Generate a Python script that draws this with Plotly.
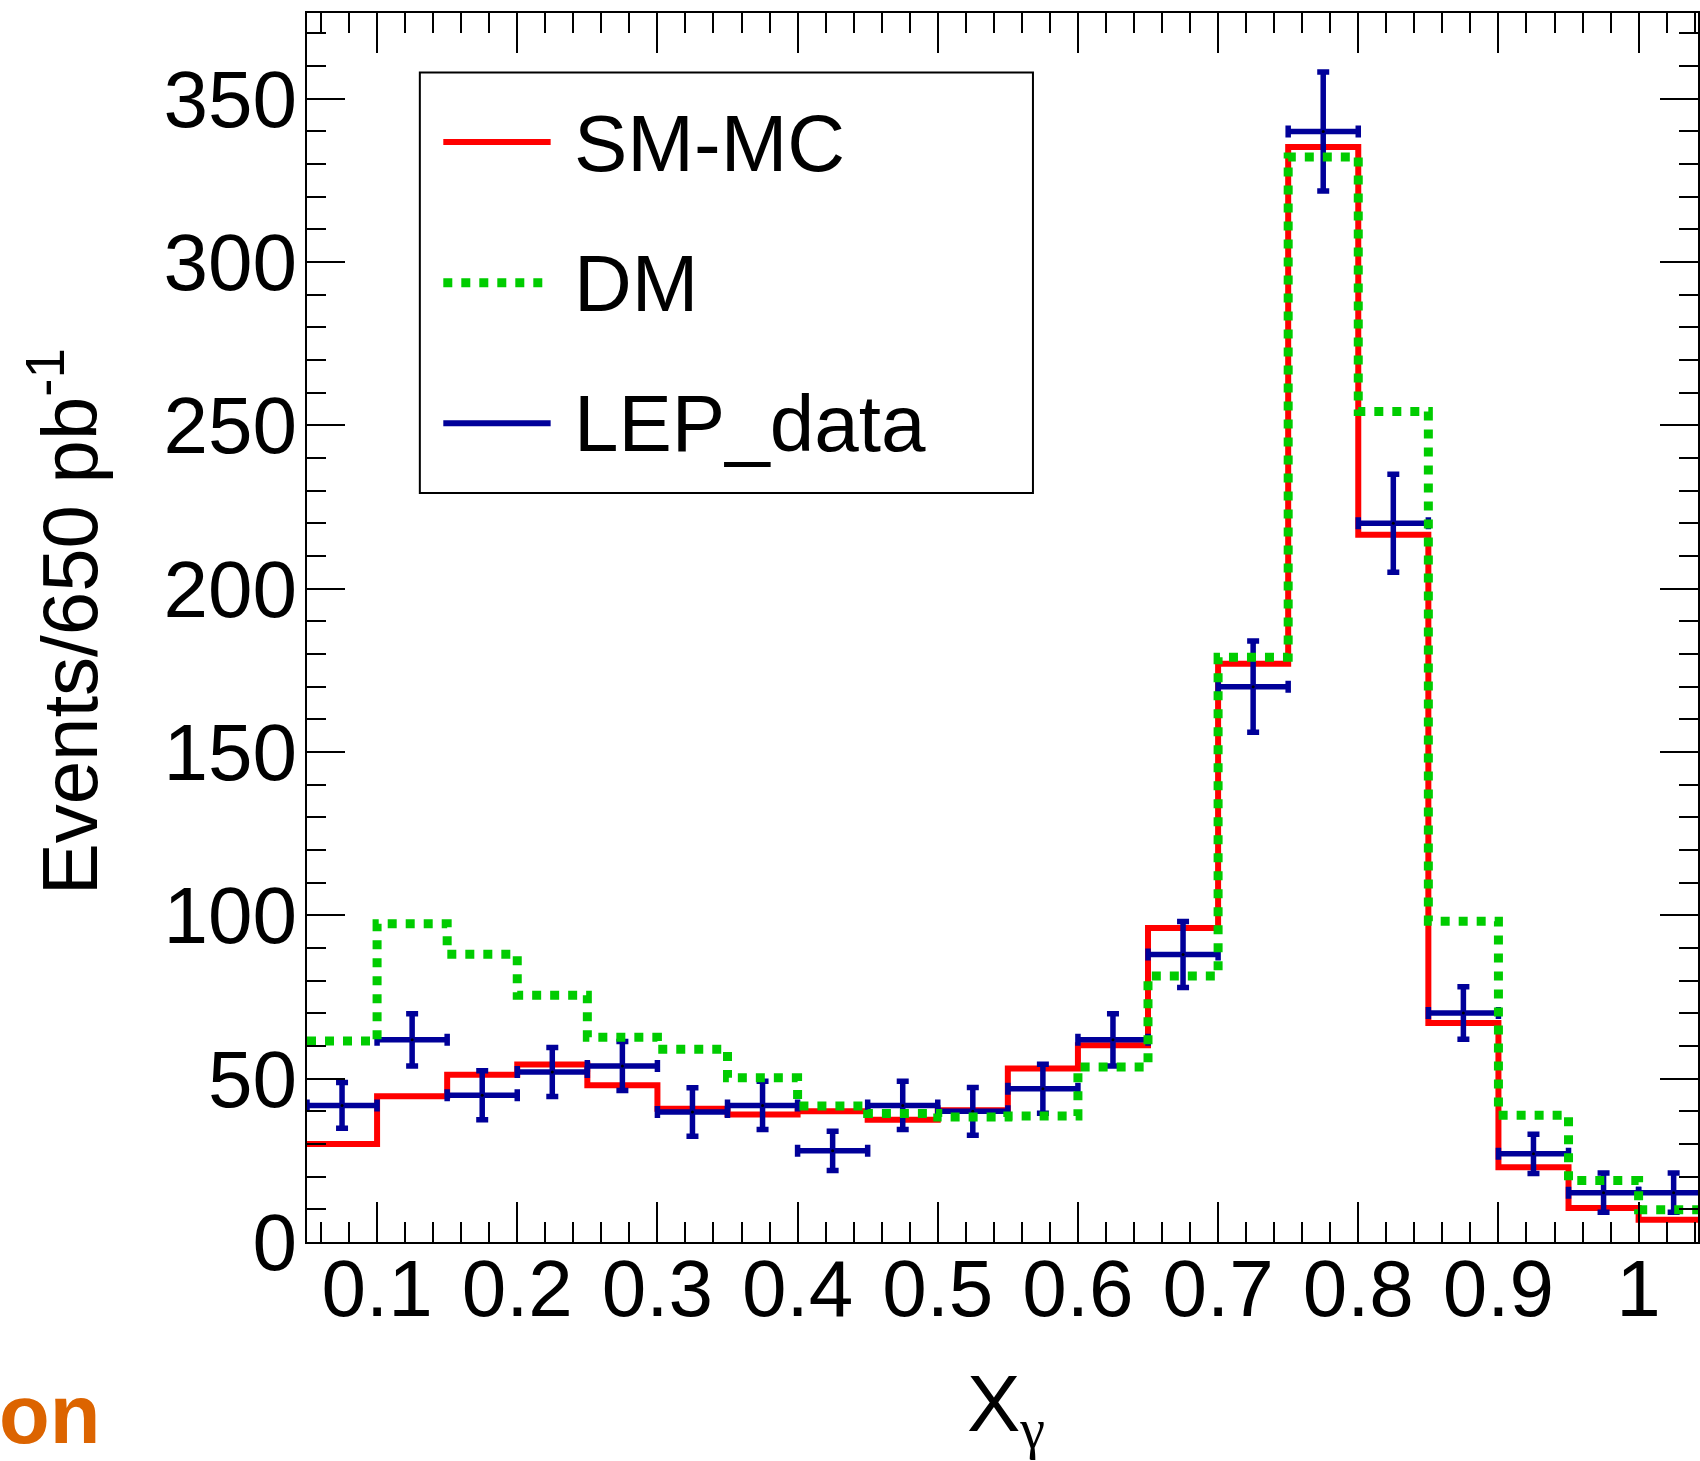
import plotly.graph_objects as go

# ---------------- data ----------------
bin_edges = [0.05, 0.10, 0.15, 0.20, 0.25, 0.30, 0.35, 0.40, 0.45, 0.50,
             0.55, 0.60, 0.65, 0.70, 0.75, 0.80, 0.85, 0.90, 0.95, 1.00, 1.05]

sm_mc = [30.0, 44.6, 51.2, 54.3, 48.0, 40.8, 39.0, 40.0, 37.4, 40.3,
         53.1, 60.2, 96.1, 177.0, 335.2, 216.5, 67.0, 22.9, 10.4, 6.8]

dm = [61.5, 97.4, 88.1, 75.5, 62.7, 59.0, 50.3, 41.6, 39.3, 38.3,
      38.6, 53.6, 81.4, 179.0, 332.1, 254.2, 98.2, 38.8, 18.8, 9.9]

lep_data = [41.8, 61.9, 44.9, 52.0, 53.9, 39.8, 41.8, 27.9, 41.8, 40.0,
            46.9, 61.9, 88.0, 170.0, 339.9, 220.0, 70.1, 27.0, 15.1, 15.1]

lep_err = [7.0, 8.0, 7.5, 7.5, 7.5, 7.4, 7.4, 6.0, 7.4, 7.3,
           7.5, 8.0, 10.1, 14.0, 18.2, 15.0, 8.0, 6.0, 6.0, 6.0]

x_tick_vals = [0.1, 0.2, 0.3, 0.4, 0.5, 0.6, 0.7, 0.8, 0.9, 1.0]
x_tick_text = ["0.1", "0.2", "0.3", "0.4", "0.5", "0.6", "0.7", "0.8", "0.9", "1"]
y_tick_vals = [0, 50, 100, 150, 200, 250, 300, 350]
y_tick_text = ["0", "50", "100", "150", "200", "250", "300", "350"]

legend_labels = ["SM-MC", "DM", "LEP_data"]
x_title = "X<sub><span style=\"font-family:'Liberation Serif','DejaVu Serif',serif\">γ</span></sub>"
y_title = "Events/650 pb<sup>-1</sup>"
corner_text = "<b>on</b>"

# ---------------- styling ----------------
FONT = "Liberation Sans, Arial, Helvetica, sans-serif"
RED = "#FF0000"
GREEN = "#00CC00"
BLUE = "#000099"
ORANGE = "#DC6400"

W, H = 1700, 1461
ML, MR, MT, MB = 307, 0, 13, 219
PW, PH = W - ML - MR, H - MT - MB
X_PX_PER_UNIT = 1403.7
Y_PX_PER_UNIT = 3.2669


def px_x(X):
    return (X - ML) / PW


def px_y(Y):
    return (H - MB - Y) / PH


def step_xy(values):
    return list(bin_edges), list(values) + [values[-1]]


centers = [(a + b) / 2 for a, b in zip(bin_edges[:-1], bin_edges[1:])]
half_w = [(b - a) / 2 for a, b in zip(bin_edges[:-1], bin_edges[1:])]

fig = go.Figure()

sx, sy = step_xy(sm_mc)
fig.add_trace(go.Scatter(x=sx, y=sy, mode="lines", line_shape="hv",
                         line=dict(color=RED, width=6), name=legend_labels[0]))

fig.add_trace(go.Scatter(
    x=centers, y=lep_data, mode="markers", name=legend_labels[2],
    marker=dict(size=3, color="black"),
    error_y=dict(type="data", array=lep_err, color=BLUE, thickness=5.5, width=6),
    error_x=dict(type="data", array=half_w, color=BLUE, thickness=5.5, width=6),
))

dx, dy = step_xy(dm)
fig.add_trace(go.Scatter(x=dx, y=dy, mode="lines", line_shape="hv",
                         line=dict(color=GREEN, width=9, dash="9px,9px"),
                         name=legend_labels[1]))

axis_common = dict(
    showline=True, linewidth=2, linecolor="black", mirror="ticks",
    ticks="inside", tickwidth=2, tickcolor="black",
    showgrid=False, zeroline=False,
    tickfont=dict(family=FONT, size=80, color="black"),
)

fig.update_layout(
    width=W, height=H,
    margin=dict(l=ML, r=MR, t=MT, b=MB, pad=0),
    paper_bgcolor="white", plot_bgcolor="white",
    showlegend=False,
    font=dict(family=FONT, color="black"),
    xaxis=dict(
        range=[0.05, 0.05 + PW / X_PX_PER_UNIT],
        tickmode="array", tickvals=x_tick_vals, ticktext=x_tick_text,
        ticklen=40, ticklabelstandoff=-24,
        minor=dict(ticks="inside", ticklen=20, tickwidth=2, tickcolor="black",
                   tickmode="linear", tick0=0, dtick=0.02, showgrid=False),
        **axis_common,
    ),
    yaxis=dict(
        range=[0, PH / Y_PX_PER_UNIT],
        tickmode="array", tickvals=y_tick_vals, ticktext=y_tick_text,
        ticklen=38, ticklabelstandoff=-8,
        minor=dict(ticks="inside", ticklen=19, tickwidth=2, tickcolor="black",
                   tickmode="linear", tick0=0, dtick=10, showgrid=False),
        **axis_common,
    ),
)

# ---------------- legend box (drawn manually to match layout) ----------------
shapes = [
    dict(type="rect", xref="paper", yref="paper",
         x0=px_x(420), x1=px_x(1034), y0=px_y(72.5), y1=px_y(493),
         line=dict(color="black", width=2), fillcolor="white", layer="above"),
    dict(type="line", xref="paper", yref="paper",
         x0=px_x(443.5), x1=px_x(551), y0=px_y(142), y1=px_y(142),
         line=dict(color=RED, width=6)),
    dict(type="line", xref="paper", yref="paper",
         x0=px_x(443.5), x1=px_x(546), y0=px_y(282.7), y1=px_y(282.7),
         line=dict(color=GREEN, width=9, dash="9px,9px")),
    dict(type="line", xref="paper", yref="paper",
         x0=px_x(443.5), x1=px_x(551), y0=px_y(423.3), y1=px_y(423.3),
         line=dict(color=BLUE, width=6)),
]
fig.update_layout(shapes=shapes)

annotations = []
for label, yc in zip(legend_labels, [143, 283, 423]):
    annotations.append(dict(
        text=label, xref="paper", yref="paper", x=px_x(572), y=px_y(yc),
        xanchor="left", yanchor="middle", showarrow=False,
        font=dict(family=FONT, size=80, color="black")))

annotations.append(dict(
    text=y_title, xref="paper", yref="paper", x=px_x(64), y=px_y(622),
    xanchor="center", yanchor="middle", textangle=-90, showarrow=False,
    font=dict(family=FONT, size=78, color="black")))

annotations.append(dict(
    text=x_title, xref="paper", yref="paper", x=px_x(966), y=px_y(1410),
    xanchor="left", yanchor="middle", showarrow=False,
    font=dict(family=FONT, size=80, color="black")))

annotations.append(dict(
    text=corner_text, xref="paper", yref="paper", x=px_x(101.5), y=px_y(1414),
    xanchor="right", yanchor="middle", showarrow=False,
    font=dict(family=FONT, size=83, color=ORANGE)))

fig.update_layout(annotations=annotations)

fig.write_html("out.html")
